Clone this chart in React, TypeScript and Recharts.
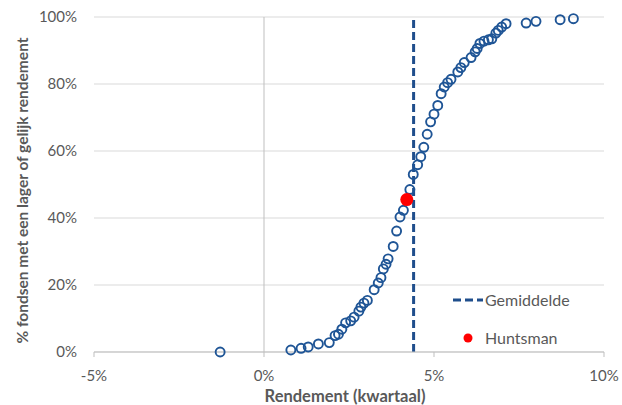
import { CartesianGrid, Label, ReferenceLine, Scatter, ScatterChart, XAxis, YAxis } from "recharts";

// quarterly return per fund (%) and cumulative share of funds (%)
const fundReturns = [
  -1.29, 0.79, 1.09, 1.3, 1.6, 1.92, 2.09, 2.19, 2.29, 2.4, 2.55, 2.65, 2.79, 2.85, 2.94, 3.04, 3.24, 3.36, 3.44,
  3.51, 3.59, 3.65, 3.8, 3.9, 4.0, 4.1, 4.29, 4.39, 4.52, 4.61, 4.7, 4.8, 4.9, 5.0, 5.11, 5.21, 5.3, 5.4, 5.5, 5.7,
  5.79, 5.89, 6.09, 6.21, 6.27, 6.35, 6.47, 6.6, 6.7, 6.82, 6.89, 6.99, 7.12, 7.71, 8.0, 8.71, 9.1,
];
const fundShares = [
  0, 0.6, 1.1, 1.5, 2.4, 2.8, 4.9, 5.3, 6.8, 8.7, 9.3, 10.4, 12.2, 13.4, 14.6, 15.4, 18.6, 20.6, 22.2, 24.8, 26.2,
  27.8, 31.5, 36.1, 40.3, 42.3, 48.5, 53.0, 55.9, 58.3, 61.1, 65.0, 68.7, 71.0, 73.6, 77.1, 79.1, 80.4, 81.4, 83.6,
  84.9, 86.4, 87.9, 89.6, 90.6, 92.1, 92.8, 93.2, 93.5, 95.2, 96.0, 97.0, 98.0, 98.2, 98.7, 99.2, 99.5,
];
const huntsmanReturns = [4.2];
const huntsmanShares = [45.5];
const averageReturn = 4.4;

const xTicks = [-5, 0, 5, 10];
const yTicks = [0, 20, 40, 60, 80, 100];
const legendLabels = ["Gemiddelde", "Huntsman"];

const funds = fundReturns.map((x, i) => ({ x, y: fundShares[i] }));
const huntsman = huntsmanReturns.map((x, i) => ({ x, y: huntsmanShares[i] }));

const BLUE = "#1f5596";
const GREY_TEXT = "#595959";
const pct = (v: number) => `${v}%`;

function OpenCircle(props: any) {
  return <circle cx={props.cx} cy={props.cy} r={4.5} fill="none" stroke={BLUE} strokeWidth={1.9} />;
}

function RedDot(props: any) {
  return <circle cx={props.cx} cy={props.cy} r={6.5} fill="#ff0000" />;
}

function YTitle(props: any) {
  const vb = props.viewBox ?? { x: 8, y: 17, width: 86, height: 335 };
  const cx = vb.x + 14;
  const cy = vb.y + vb.height / 2 + 6;
  return (
    <text
      x={cx}
      y={cy}
      transform={`rotate(-90 ${cx} ${cy})`}
      textAnchor="middle"
      dominantBaseline="central"
      fill={GREY_TEXT}
      fontSize={15.5}
      fontWeight={700}
    >
      % fondsen met een lager of gelijk rendement
    </text>
  );
}

// legend drawn over the plot, bottom right
function LegendBox() {
  return (
    <div style={{ position: "absolute", left: 450, top: 288, fontSize: 16, color: GREY_TEXT, lineHeight: "24px" }}>
      {legendLabels.map((label, i) => (
        <div key={label} style={{ display: "flex", alignItems: "center", height: 24, marginTop: i ? 14 : 0 }}>
          <svg width={35} height={24}>
            {i === 0 ? (
              <line x1={3} x2={33} y1={12} y2={12} stroke="#1f4e8c" strokeWidth={3} strokeDasharray="8 4" />
            ) : (
              <circle cx={18} cy={12} r={4.5} fill="#ff0000" />
            )}
          </svg>
          <span>{label}</span>
        </div>
      ))}
    </div>
  );
}

export default function App() {
  return (
    <div
      style={{
        position: "absolute",
        left: 0,
        top: 0,
        width: 622,
        height: 405,
        background: "#fff",
        fontFamily: "Lato, 'Open Sans', sans-serif",
      }}
    >
      <ScatterChart width={622} height={405} margin={{ top: 17, right: 18, bottom: 0, left: 8 }}>
        <CartesianGrid vertical={false} stroke="#d9d9d9" />
        <XAxis
          type="number"
          dataKey="x"
          domain={[-5, 10]}
          ticks={xTicks}
          interval={0}
          tickFormatter={pct}
          height={53}
          tickSize={5}
          tickMargin={13}
          stroke="#bfbfbf"
          tick={{ fill: GREY_TEXT, fontSize: 15 }}
        >
          <Label
            value="Rendement (kwartaal)"
            position="insideBottom"
            offset={3}
            dx={-4}
            style={{ fill: GREY_TEXT, fontSize: 16.5, fontWeight: 700 }}
          />
        </XAxis>
        <YAxis
          type="number"
          dataKey="y"
          domain={[0, 100]}
          ticks={yTicks}
          interval={0}
          tickFormatter={pct}
          width={86}
          axisLine={false}
          tickLine={false}
          tickMargin={11}
          tick={{ fill: GREY_TEXT, fontSize: 15 }}
        >
          <Label content={YTitle} />
        </YAxis>
        <ReferenceLine x={0} stroke="#bfbfbf" />
        <ReferenceLine x={averageReturn} stroke="#1f4e8c" strokeWidth={3} strokeDasharray="8 4" />
        <Scatter data={funds} shape={OpenCircle} isAnimationActive={false} />
        <Scatter data={huntsman} shape={RedDot} isAnimationActive={false} />
      </ScatterChart>
      <LegendBox />
    </div>
  );
}
